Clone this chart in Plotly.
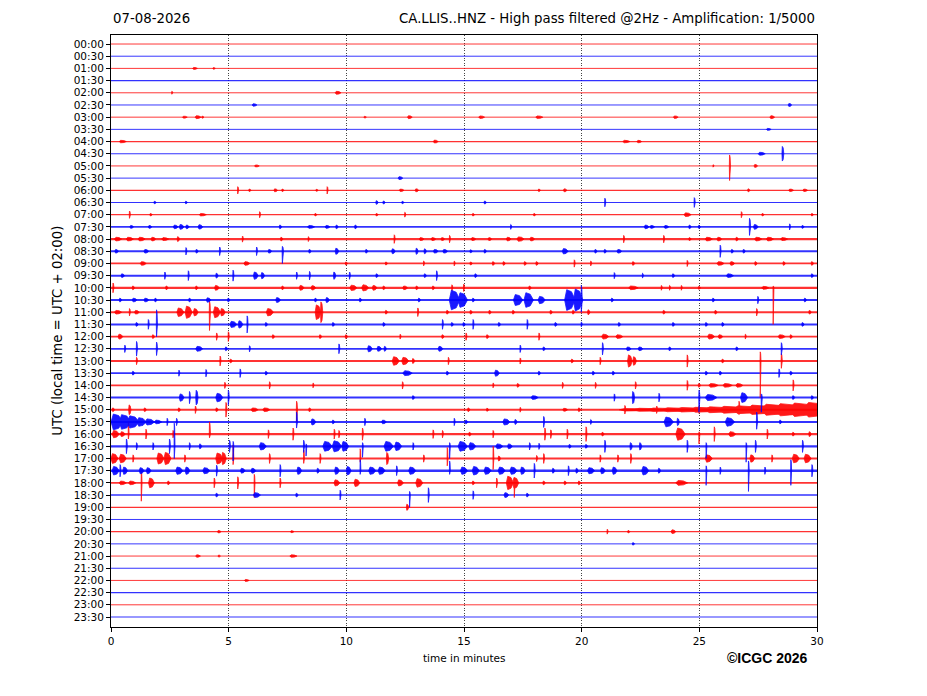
import plotly.graph_objects as go

FONT = 'DejaVu Sans'

date_text = "07-08-2026"
title_text = "CA.LLIS..HNZ - High pass filtered @2Hz - Amplification: 1/5000"
ylabel_text = "UTC (local time = UTC + 02:00)"
xlabel_text = "time in minutes"
credit_text = "©ICGC 2026"

row_labels = [f"{h:02d}:{m:02d}" for h in range(24) for m in (0, 30)]
x_ticks = [0, 5, 10, 15, 20, 25, 30]
row_colors = ['rgb(255, 0, 0)', 'rgb(0, 0, 255)']

# background noise level of every trace (half amplitude, in trace spacings)
noise = [0.04, 0.04, 0.04, 0.05, 0.04, 0.04, 0.04, 0.04, 0.05, 0.05, 0.04, 0.04,
         0.05, 0.05, 0.05, 0.07, 0.09, 0.08, 0.07, 0.08, 0.09, 0.08, 0.09, 0.08,
         0.07, 0.07, 0.08, 0.07, 0.07, 0.08, 0.08, 0.08, 0.09, 0.09, 0.09, 0.1,
         0.07, 0.06, 0.05, 0.04, 0.05, 0.04, 0.04, 0.05, 0.04, 0.05, 0.04, 0.05]

# wave packets per trace: (minute, duration, amplitude[, downward amplitude])
bursts = [
    [],
    [],
    [(3.57, 0.2, 0.08), (4.38, 0.1, 0.07)],
    [],
    [(2.6, 0.05, 0.12), (9.65, 0.25, 0.12)],
    [(6.1, 0.2, 0.1), (28.85, 0.15, 0.12)],
    [(3.14, 0.2, 0.08), (3.7, 0.25, 0.12), (3.9, 0.1, 0.08), (10.8, 0.1, 0.07), (12.7, 0.2, 0.12),
     (15.75, 0.25, 0.1), (18.2, 0.3, 0.1), (24.0, 0.2, 0.1), (28.1, 0.2, 0.12)],
    [(27.95, 0.2, 0.08)],
    [(0.5, 0.3, 0.1), (13.8, 0.2, 0.12), (21.9, 0.3, 0.1), (22.45, 0.2, 0.1)],
    [(27.65, 0.3, 0.12), (28.55, 0.08, 0.6)],
    [(6.2, 0.2, 0.08), (25.6, 0.05, 0.1), (26.3, 0.05, 0.9, 1.2), (27.4, 0.15, 0.12)],
    [(12.3, 0.2, 0.12)],
    [(5.4, 0.05, 0.3), (5.9, 0.1, 0.1), (7.0, 0.15, 0.12), (7.3, 0.1, 0.1), (8.75, 0.1, 0.08),
     (9.2, 0.05, 0.3), (12.35, 0.2, 0.1), (13.0, 0.15, 0.12), (18.2, 0.1, 0.1), (19.3, 0.15, 0.12),
     (27.1, 0.1, 0.12), (28.9, 0.2, 0.1), (29.5, 0.2, 0.1)],
    [(1.87, 0.1, 0.1), (3.2, 0.1, 0.1), (11.3, 0.1, 0.15), (11.6, 0.1, 0.12), (12.4, 0.1, 0.1),
     (15.9, 0.1, 0.12), (21.0, 0.05, 0.35), (24.8, 0.05, 0.4)],
    [(0.8, 0.05, 0.3), (1.7, 0.1, 0.1), (3.9, 0.3, 0.1), (6.33, 0.05, 0.25), (8.7, 0.1, 0.1),
     (11.3, 0.1, 0.1), (12.5, 0.05, 0.2), (15.4, 0.1, 0.1), (18.0, 0.1, 0.1), (24.5, 0.3, 0.15),
     (26.8, 0.05, 0.25), (27.7, 0.1, 0.1), (29.8, 0.1, 0.1)],
    [(0.88, 0.15, 0.12), (1.66, 0.15, 0.12), (2.75, 0.2, 0.15), (3.0, 0.2, 0.2), (3.25, 0.15, 0.15),
     (3.8, 0.2, 0.18), (7.2, 0.1, 0.15), (8.5, 0.3, 0.12), (9.2, 0.2, 0.12), (9.6, 0.1, 0.15),
     (10.4, 0.1, 0.15), (17.0, 0.05, 0.2), (22.76, 0.2, 0.15), (23.0, 0.2, 0.12), (23.6, 0.2, 0.12),
     (24.6, 0.1, 0.15), (25.0, 0.1, 0.12), (27.15, 0.06, 0.7), (27.4, 0.2, 0.2), (28.85, 0.05, 0.25),
     (29.4, 0.1, 0.12)],
    [(0.3, 0.3, 0.15), (0.8, 0.3, 0.15), (1.3, 0.3, 0.15), (1.8, 0.2, 0.15), (2.3, 0.3, 0.12),
     (2.86, 0.1, 0.2), (5.6, 0.05, 0.25), (7.25, 0.1, 0.15), (8.4, 0.05, 0.2), (12.05, 0.05, 0.35),
     (13.2, 0.2, 0.12), (13.7, 0.2, 0.12), (14.1, 0.15, 0.12), (14.4, 0.05, 0.3), (15.4, 0.2, 0.12),
     (16.1, 0.15, 0.12), (16.9, 0.2, 0.15), (17.4, 0.3, 0.18), (17.9, 0.2, 0.15), (21.8, 0.05, 0.3),
     (23.5, 0.05, 0.3), (24.6, 0.1, 0.12), (25.4, 0.3, 0.15), (25.85, 0.2, 0.15), (26.6, 0.1, 0.15),
     (27.5, 0.3, 0.15), (28.0, 0.3, 0.15), (28.6, 0.3, 0.12)],
    [(0.24, 0.15, 0.15), (1.5, 0.2, 0.15), (3.2, 0.05, 0.3), (3.65, 0.1, 0.15), (4.63, 0.05, 0.35),
     (6.2, 0.05, 0.35), (6.75, 0.15, 0.15), (7.3, 0.06, 0.4, 1.0), (8.45, 0.1, 0.15), (9.6, 0.15, 0.25),
     (10.86, 0.1, 0.15), (12.0, 0.15, 0.2), (13.0, 0.1, 0.25), (13.35, 0.1, 0.2), (13.8, 0.2, 0.15),
     (14.2, 0.2, 0.15), (15.3, 0.1, 0.12), (15.9, 0.1, 0.15), (19.3, 0.25, 0.22), (20.6, 0.1, 0.15),
     (21.0, 0.1, 0.15), (21.6, 0.2, 0.15), (25.9, 0.05, 0.5), (26.4, 0.1, 0.15), (26.9, 0.1, 0.15)],
    [(1.37, 0.25, 0.15), (5.77, 0.25, 0.15), (10.0, 0.1, 0.12), (11.7, 0.1, 0.12), (13.3, 0.05, 0.2),
     (14.6, 0.05, 0.2), (15.3, 0.1, 0.12), (16.25, 0.1, 0.15), (16.7, 0.1, 0.15), (17.6, 0.1, 0.15),
     (18.1, 0.1, 0.15), (19.7, 0.05, 0.3), (20.4, 0.05, 0.2), (22.2, 0.1, 0.15), (24.5, 0.05, 0.25),
     (25.9, 0.3, 0.15), (26.4, 0.2, 0.15), (27.4, 0.1, 0.15), (28.6, 0.1, 0.15), (29.8, 0.1, 0.15)],
    [(0.5, 0.15, 0.15), (2.3, 0.05, 0.3), (3.3, 0.05, 0.4), (4.5, 0.1, 0.2), (5.2, 0.05, 0.45),
     (6.15, 0.2, 0.3), (6.45, 0.15, 0.25), (7.9, 0.05, 0.3), (8.45, 0.05, 0.35), (9.5, 0.1, 0.3),
     (10.15, 0.05, 0.3), (11.3, 0.1, 0.15), (13.35, 0.1, 0.15), (13.85, 0.05, 0.4), (15.5, 0.1, 0.15),
     (21.4, 0.05, 0.25), (22.6, 0.05, 0.2), (23.9, 0.1, 0.15), (26.3, 0.3, 0.15), (29.8, 0.1, 0.15)],
    [(0.1, 0.05, 0.4), (0.95, 0.1, 0.15), (2.37, 0.1, 0.15), (3.64, 0.1, 0.15), (4.5, 0.2, 0.2),
     (7.3, 0.1, 0.15), (8.1, 0.2, 0.2), (8.6, 0.2, 0.18), (10.3, 0.3, 0.22), (10.8, 0.3, 0.25),
     (11.2, 0.2, 0.2), (11.6, 0.1, 0.15), (12.5, 0.2, 0.15), (13.0, 0.1, 0.15), (13.7, 0.1, 0.15),
     (14.5, 0.05, 0.25), (15.0, 0.05, 0.3), (17.8, 0.1, 0.15), (22.2, 0.4, 0.15), (23.4, 0.05, 0.2),
     (23.75, 0.05, 0.2), (24.25, 0.05, 0.2), (25.0, 0.1, 0.12), (27.8, 0.3, 0.12),
     (28.15, 0.04, 0.15, 3.0)],
    [(0.4, 0.1, 0.15), (1.0, 0.2, 0.15), (1.5, 0.2, 0.15), (1.9, 0.1, 0.15), (3.35, 0.1, 0.15),
     (4.15, 0.2, 0.18), (5.0, 0.1, 0.15), (7.1, 0.2, 0.2), (8.7, 0.1, 0.15), (9.2, 0.15, 0.2),
     (10.6, 0.1, 0.15), (13.1, 0.1, 0.15), (14.6, 0.45, 0.8), (14.95, 0.4, 0.6), (15.4, 0.1, 0.15),
     (17.3, 0.4, 0.45), (17.75, 0.4, 0.6), (18.3, 0.3, 0.3), (19.5, 0.45, 0.85), (19.85, 0.4, 0.9),
     (20.0, 0.05, 1.2, 1.0), (21.3, 0.1, 0.15), (25.6, 0.1, 0.15), (27.5, 0.05, 0.3), (29.5, 0.1, 0.15)],
    [(0.3, 0.3, 0.15), (0.8, 0.05, 0.3), (1.1, 0.2, 0.15), (2.95, 0.3, 0.35), (3.3, 0.3, 0.5),
     (3.6, 0.2, 0.3), (4.2, 0.05, 0.9, 1.5), (4.5, 0.3, 0.45), (4.75, 0.2, 0.3), (6.75, 0.3, 0.3),
     (8.8, 0.25, 0.6), (8.95, 0.1, 0.85), (11.7, 0.1, 0.15), (13.05, 0.05, 0.35), (14.3, 0.1, 0.15),
     (15.3, 0.1, 0.15), (16.1, 0.1, 0.15), (17.1, 0.1, 0.15), (18.7, 0.1, 0.15), (19.65, 0.1, 0.15),
     (20.3, 0.1, 0.2), (23.5, 0.1, 0.15), (25.7, 0.1, 0.15), (27.45, 0.05, 0.3), (29.7, 0.1, 0.15)],
    [(1.1, 0.1, 0.15), (1.6, 0.05, 0.4), (1.95, 0.05, 1.2, 1.0), (5.2, 0.3, 0.25), (5.5, 0.2, 0.3),
     (5.8, 0.05, 0.7), (6.6, 0.1, 0.15), (9.45, 0.1, 0.15), (11.6, 0.1, 0.15), (14.1, 0.05, 0.4),
     (14.5, 0.1, 0.15), (15.0, 0.1, 0.15), (15.4, 0.05, 0.4), (16.5, 0.1, 0.15), (17.7, 0.05, 0.4),
     (18.9, 0.1, 0.15), (20.0, 0.05, 0.2), (21.6, 0.1, 0.15), (23.9, 0.1, 0.15), (25.3, 0.1, 0.15),
     (26.0, 0.1, 0.15), (29.4, 0.1, 0.15)],
    [(0.4, 0.2, 0.2), (1.8, 0.1, 0.15), (4.5, 0.05, 0.3), (5.0, 0.05, 0.4), (6.9, 0.1, 0.15),
     (8.9, 0.1, 0.15), (10.0, 0.1, 0.15), (12.3, 0.05, 0.2), (14.1, 0.1, 0.15), (15.1, 0.05, 0.3),
     (16.0, 0.1, 0.15), (18.2, 0.05, 0.3), (21.0, 0.3, 0.2), (21.6, 0.3, 0.15), (25.5, 0.3, 0.2),
     (25.9, 0.2, 0.15), (26.97, 0.05, 0.2), (28.5, 0.3, 0.15), (28.9, 0.1, 0.15)],
    [(0.6, 0.05, 0.3), (1.1, 0.05, 0.6), (1.95, 0.05, 0.55), (3.75, 0.3, 0.2), (4.9, 0.1, 0.15),
     (5.9, 0.05, 0.25), (9.7, 0.05, 0.4), (11.0, 0.2, 0.25), (11.4, 0.2, 0.2), (11.65, 0.1, 0.2),
     (14.0, 0.2, 0.2), (17.4, 0.05, 0.3), (18.4, 0.1, 0.15), (20.9, 0.05, 0.5), (22.0, 0.2, 0.15),
     (22.5, 0.2, 0.15), (23.75, 0.1, 0.15), (26.6, 0.1, 0.15), (28.5, 0.05, 0.5)],
    [(1.1, 0.05, 0.3), (4.65, 0.05, 0.4), (5.1, 0.1, 0.15), (12.1, 0.3, 0.35), (12.5, 0.3, 0.3),
     (12.85, 0.1, 0.2), (14.35, 0.05, 0.3), (17.4, 0.05, 0.25), (19.6, 0.1, 0.15), (20.8, 0.05, 0.3),
     (22.05, 0.2, 0.5), (22.25, 0.15, 0.35), (24.5, 0.05, 0.5), (26.0, 0.1, 0.15),
     (27.6, 0.04, 0.75, 3.0), (28.5, 0.05, 0.6)],
    [(0.95, 0.1, 0.15), (2.9, 0.05, 0.25), (4.05, 0.05, 0.3), (5.5, 0.05, 0.35), (6.6, 0.1, 0.15),
     (12.6, 0.4, 0.2), (14.3, 0.1, 0.15), (16.4, 0.2, 0.25), (18.2, 0.1, 0.15), (20.5, 0.1, 0.15),
     (21.35, 0.1, 0.15), (25.3, 0.1, 0.15), (25.9, 0.1, 0.15), (28.4, 0.05, 0.35), (28.9, 0.1, 0.15)],
    [(4.85, 0.05, 0.25), (6.75, 0.05, 0.3), (8.6, 0.05, 0.2), (12.4, 0.05, 0.3), (16.25, 0.05, 0.2),
     (17.3, 0.1, 0.15), (19.2, 0.05, 0.25), (20.6, 0.05, 0.25), (22.3, 0.05, 0.3), (24.5, 0.05, 0.4),
     (25.0, 0.1, 0.15), (25.6, 0.4, 0.15), (26.2, 0.4, 0.15), (26.7, 0.3, 0.15), (29.0, 0.05, 0.45)],
    [(3.0, 0.2, 0.3), (3.35, 0.05, 0.5), (3.65, 0.1, 0.6), (4.6, 0.3, 0.35), (5.0, 0.05, 0.6),
     (12.85, 0.1, 0.15), (18.0, 0.3, 0.15), (21.4, 0.05, 0.3), (22.2, 0.1, 0.5), (23.3, 0.05, 0.35),
     (25.0, 0.05, 0.6, 1.2), (25.5, 0.5, 0.25), (26.9, 0.3, 0.4), (27.65, 0.05, 0.3, 1.2),
     (29.0, 0.1, 0.15), (29.8, 0.1, 0.15)],
    [(0.1, 0.1, 0.15), (0.8, 0.1, 0.4), (1.45, 0.1, 0.15), (2.9, 0.1, 0.15), (3.6, 0.05, 0.3),
     (4.5, 0.1, 0.15), (4.9, 0.05, 0.6), (6.1, 0.3, 0.15), (6.6, 0.3, 0.15), (7.9, 0.05, 0.7, 1.0),
     (8.45, 0.1, 0.15), (15.2, 0.1, 0.15), (16.0, 0.1, 0.12), (17.4, 0.05, 0.2), (19.3, 0.2, 0.12),
     (19.9, 0.1, 0.15), (21.85, 0.05, 0.35), (22.2, 1.2, 0.1), (22.8, 1.2, 0.12), (23.2, 0.05, 0.3),
     (23.4, 1.2, 0.14), (24.0, 1.2, 0.16), (24.6, 1.2, 0.18), (25.0, 0.05, 0.3), (25.2, 1.2, 0.2),
     (25.8, 1.2, 0.24), (26.4, 1.2, 0.28), (26.7, 0.05, 0.7, 0.4), (27.0, 1.2, 0.32), (27.6, 1.2, 0.38),
     (28.2, 1.2, 0.45), (28.8, 1.2, 0.5), (29.4, 1.2, 0.55), (30.0, 1.2, 0.6)],
    [(0.25, 0.5, 0.65), (0.6, 0.5, 0.6), (0.95, 0.5, 0.5), (1.3, 0.4, 0.35), (1.65, 0.4, 0.25),
     (2.0, 0.3, 0.15), (2.4, 0.05, 0.3), (2.8, 0.05, 0.3), (7.9, 0.05, 0.8, 0.5), (8.6, 0.2, 0.25),
     (9.45, 0.1, 0.15), (10.8, 0.05, 0.3), (11.6, 0.2, 0.15), (14.6, 0.05, 0.3), (15.1, 0.1, 0.15),
     (16.8, 0.3, 0.25), (17.2, 0.1, 0.2), (18.4, 0.05, 0.45), (20.4, 0.05, 0.2), (23.7, 0.4, 0.4),
     (24.1, 0.1, 0.3), (26.3, 0.4, 0.35), (27.45, 0.05, 0.8, 0.6), (28.45, 0.1, 0.15)],
    [(0.2, 0.3, 0.3), (0.5, 0.2, 0.2), (0.75, 0.04, 1.0, 0.4), (1.5, 0.05, 0.4), (2.65, 0.05, 0.3),
     (4.2, 0.05, 1.0, 0.3), (6.7, 0.05, 0.35), (7.75, 0.05, 0.5), (9.5, 0.05, 0.4), (9.7, 0.05, 0.3),
     (10.7, 0.05, 0.5), (13.7, 0.05, 0.35), (14.1, 0.05, 0.3), (15.25, 0.1, 0.15), (16.25, 0.05, 0.3),
     (18.45, 0.05, 0.5), (18.7, 0.05, 0.35), (19.4, 0.05, 0.4), (20.2, 0.05, 0.6), (20.9, 0.1, 0.15),
     (24.2, 0.4, 0.5), (25.0, 0.05, 0.2, 0.8), (25.65, 0.05, 0.6), (26.4, 0.3, 0.2), (27.9, 0.05, 0.4),
     (29.0, 0.1, 0.15), (29.7, 0.1, 0.2)],
    [(0.67, 0.05, 0.6), (1.1, 0.05, 0.3), (1.8, 0.05, 0.3), (2.5, 0.05, 0.6), (2.7, 0.04, 1.9, 1.0),
     (3.35, 0.05, 0.3), (3.8, 0.1, 0.2), (5.05, 0.05, 0.5), (5.2, 0.04, 0.4, 1.2), (6.45, 0.3, 0.3),
     (8.2, 0.05, 0.5), (8.3, 0.04, 0.2, 0.8), (9.2, 0.4, 0.4), (9.6, 0.4, 0.45), (9.95, 0.3, 0.4),
     (10.7, 0.04, 0.3, 0.9), (11.8, 0.4, 0.4), (12.2, 0.3, 0.35), (12.85, 0.05, 0.3),
     (14.4, 0.04, 0.3, 1.0), (14.95, 0.4, 0.4), (15.35, 0.3, 0.3), (16.5, 0.3, 0.2), (16.95, 0.2, 0.2),
     (17.8, 0.05, 0.3), (18.2, 0.05, 0.25), (19.5, 0.1, 0.15), (20.2, 0.1, 0.15), (21.0, 0.05, 0.5),
     (22.1, 0.1, 0.3), (22.5, 0.1, 0.3), (24.5, 0.05, 0.5), (25.3, 0.04, 0.3, 1.0),
     (27.0, 0.04, 0.3, 1.3), (27.4, 0.05, 0.5), (29.4, 0.05, 0.5)],
    [(0.15, 0.3, 0.4), (0.5, 0.3, 0.35), (0.95, 0.05, 0.3), (2.1, 0.3, 0.45), (2.4, 0.3, 0.5),
     (3.15, 0.05, 0.3), (4.6, 0.3, 0.45), (4.8, 0.2, 0.5), (5.2, 0.04, 1.1, 0.5), (6.75, 0.05, 0.4),
     (8.2, 0.04, 0.7, 0.4), (8.9, 0.05, 0.4), (10.6, 0.04, 0.8, 0.3), (11.75, 0.1, 0.5),
     (13.3, 0.05, 0.3), (14.3, 0.04, 0.9, 0.6), (16.25, 0.04, 1.0, 0.9), (16.5, 0.1, 0.2),
     (18.1, 0.05, 0.25), (18.4, 0.05, 0.4), (20.8, 0.05, 0.3), (21.55, 0.05, 0.3), (22.1, 0.05, 0.4),
     (25.4, 0.3, 0.3), (27.25, 0.2, 0.3), (28.1, 0.05, 0.3), (29.1, 0.3, 0.35), (29.6, 0.3, 0.35)],
    [(0.2, 0.3, 0.35), (0.4, 0.05, 0.5), (0.6, 0.2, 0.3), (1.3, 0.2, 0.25), (1.6, 0.2, 0.25),
     (2.9, 0.3, 0.3), (3.25, 0.2, 0.3), (4.05, 0.3, 0.25), (4.5, 0.05, 0.45), (5.6, 0.2, 0.2),
     (6.05, 0.2, 0.2), (7.2, 0.05, 0.5), (8.0, 0.2, 0.3), (8.8, 0.1, 0.2), (9.6, 0.2, 0.3),
     (10.1, 0.2, 0.35), (10.6, 0.04, 0.9, 0.3), (11.1, 0.3, 0.3), (11.5, 0.3, 0.3), (12.15, 0.05, 0.4),
     (12.8, 0.3, 0.3), (14.4, 0.04, 0.8, 0.3), (15.0, 0.3, 0.3), (15.5, 0.3, 0.35), (16.0, 0.3, 0.3),
     (16.6, 0.3, 0.3), (17.1, 0.3, 0.3), (17.5, 0.2, 0.3), (18.0, 0.05, 0.6), (18.8, 0.1, 0.2),
     (19.45, 0.05, 0.4), (19.8, 0.1, 0.2), (20.4, 0.3, 0.25), (20.9, 0.2, 0.25), (21.4, 0.2, 0.3),
     (22.7, 0.3, 0.35), (23.3, 0.1, 0.2), (25.3, 0.04, 0.4, 1.2), (25.9, 0.05, 0.3),
     (27.1, 0.04, 0.8, 1.7), (27.8, 0.05, 0.3), (28.9, 0.04, 0.9, 1.2), (29.8, 0.05, 0.5)],
    [(0.5, 0.3, 0.15), (0.9, 0.3, 0.15), (1.3, 0.04, 0.9, 1.5), (1.72, 0.25, 0.4), (2.45, 0.1, 0.15),
     (4.4, 0.05, 0.4), (5.4, 0.05, 0.5), (6.1, 0.04, 0.7, 1.2), (7.2, 0.05, 0.4), (9.6, 0.25, 0.25),
     (10.45, 0.25, 0.3), (12.3, 0.25, 0.25), (13.1, 0.3, 0.35), (15.4, 0.1, 0.15), (16.4, 0.05, 0.4),
     (16.95, 0.3, 0.55), (17.2, 0.25, 0.45), (17.15, 0.04, 0.4, 1.2), (18.4, 0.1, 0.15),
     (19.3, 0.1, 0.15), (19.9, 0.1, 0.15), (24.25, 0.5, 0.2)],
    [(4.5, 0.1, 0.15), (6.2, 0.3, 0.2), (7.9, 0.1, 0.15), (9.75, 0.05, 0.4), (12.7, 0.04, 0.3, 1.0),
     (13.5, 0.05, 0.6), (15.4, 0.05, 0.35), (16.8, 0.2, 0.2), (17.7, 0.1, 0.15)],
    [(12.6, 0.1, 0.25)],
    [],
    [(4.6, 0.15, 0.1), (7.7, 0.15, 0.08), (21.1, 0.05, 0.2), (22.0, 0.1, 0.1), (23.9, 0.2, 0.15)],
    [(22.2, 0.1, 0.1)],
    [(3.7, 0.2, 0.1), (4.6, 0.1, 0.08), (7.75, 0.3, 0.1)],
    [],
    [(5.77, 0.2, 0.08)],
    [],
    [],
    [],
]

n_rows = len(row_labels)
y_range = [n_rows - 0.18, -0.74]
plot_h = 592
px_per_row = plot_h / abs(y_range[0] - y_range[1])

fig = go.Figure()

# base traces
for i in range(n_rows):
    color = row_colors[i % 2]
    fig.add_trace(go.Scatter(
        x=[0, 30], y=[i, i], mode='lines',
        line=dict(color=color, width=max(0.9, 2 * noise[i] * px_per_row)),
        opacity=0.8, hoverinfo='skip', showlegend=False))

# wave packets: quick onset, flat-ish top, decay
for c in range(2):
    xs, ys = [], []
    for i in range(c, n_rows, 2):
        for b in bursts[i]:
            t, w, up = b[0], b[1], b[2]
            down = b[3] if len(b) > 3 else up
            x0, x1 = t - w / 2, t + w / 2
            xa, xb = x0 + 0.2 * w, x0 + 0.65 * w
            xs += [x0, xa, xb, x1, xb, xa, x0, None]
            ys += [i, i - up, i - 0.8 * up, i, i + 0.8 * down, i + down, i, None]
    fig.add_trace(go.Scatter(
        x=xs, y=ys, mode='lines', fill='toself', fillcolor=row_colors[c],
        line=dict(color=row_colors[c], width=0.8), opacity=0.9,
        hoverinfo='skip', showlegend=False))

fig.update_xaxes(range=[0, 30], tickvals=x_ticks, ticks='outside', ticklen=4,
                 tickcolor='black', showline=True, mirror=True, linecolor='black',
                 linewidth=1, showgrid=True, gridcolor='#444444', griddash='1px,1.5px',
                 gridwidth=0.8, zeroline=False,
                 tickfont=dict(family=FONT, size=10.5, color='black'))
fig.update_yaxes(range=y_range, tickvals=list(range(n_rows)), ticktext=row_labels,
                 ticks='outside', ticklen=4, tickcolor='black', showline=True,
                 mirror=True, linecolor='black', linewidth=1, showgrid=False,
                 zeroline=False, tickfont=dict(family=FONT, size=10.5, color='black'))

# the page body adds an 8 px offset, so the figure is 8 px smaller
fig.update_layout(
    width=919, height=688,
    margin=dict(l=103, r=110, t=27, b=69),
    plot_bgcolor='white', paper_bgcolor='white',
    font=dict(family=FONT, color='black'),
    annotations=[
        dict(text=date_text, xref='paper', yref='paper', x=0, y=1.012,
             xanchor='left', yanchor='bottom', showarrow=False,
             font=dict(size=13.3)),
        dict(text=title_text, xref='paper', yref='paper', x=1, y=1.012,
             xanchor='right', yanchor='bottom', showarrow=False,
             font=dict(size=13.3)),
        dict(text=ylabel_text, xref='paper', yref='paper', x=-0.077, y=0.5,
             xanchor='center', yanchor='middle', textangle=-90, showarrow=False,
             font=dict(size=13.3)),
        dict(text=xlabel_text, xref='paper', yref='paper', x=0.5, y=-0.052,
             xanchor='center', yanchor='middle', showarrow=False,
             font=dict(size=10.5)),
        dict(text='<b>' + credit_text + '</b>', xref='paper', yref='paper',
             x=0.99, y=-0.052, xanchor='right', yanchor='middle', showarrow=False,
             font=dict(family='Liberation Sans', size=14)),
    ],
)

fig.write_html("out.html")
